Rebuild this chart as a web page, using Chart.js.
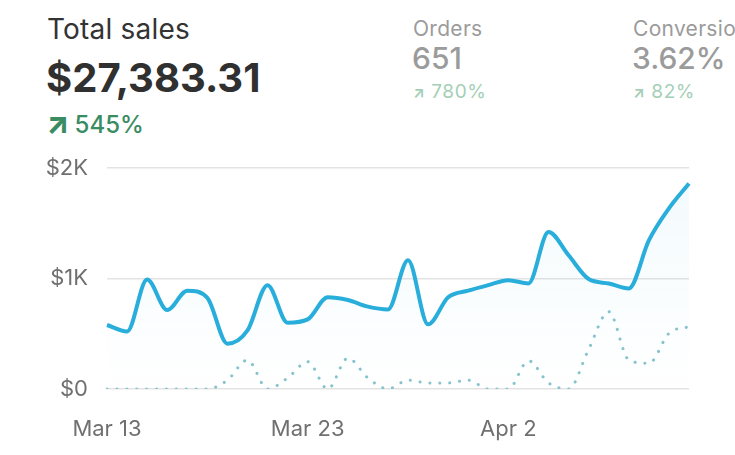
<!DOCTYPE html>
<html>
<head>
<meta charset="utf-8">
<script src="https://cdn.jsdelivr.net/npm/chart.js@4/dist/chart.umd.min.js"></script>
<style>
  html, body { margin: 0; padding: 0; background: #fff; width: 735px; height: 455px; overflow: hidden; font-family: Inter, "Noto Sans", sans-serif; }
  .abs { position: absolute; white-space: nowrap; }
  #t1 { left: 47px; top: 12px; font-size: 28px; color: #333; font-weight: 400; letter-spacing: 0.2px; }
  #t2 { left: 46px; top: 53px; font-size: 40px; color: #303030; font-weight: 700; }
  #t3 { left: 46px; top: 108px; font-size: 24px; color: #3a8c62; font-weight: 500; line-height: 30px; }
  #t3 .arr { font-size: 30px; font-weight: 800; display: inline-block; margin-right: 5px; vertical-align: -1px; }
  .lab { font-size: 21px; color: #9b9b9b; top: 16px; letter-spacing: 0.3px; }
  .val { font-size: 30px; color: #9b9b9b; font-weight: 500; top: 40px; }
  .chg { font-size: 19px; color: #a4cfb6; top: 80px; letter-spacing: 0.6px; }
  .chg .arr { font-size: 15px; font-weight: 700; }
  #wrap { position: absolute; left: 0; top: 150px; width: 735px; height: 305px; }
</style>
</head>
<body>
<div id="t1" class="abs">Total sales</div>
<div id="t2" class="abs">$27,383.31</div>
<div id="t3" class="abs"><span class="arr">↗</span>545%</div>
<div class="abs lab" style="left:413px">Orders</div>
<div class="abs val" style="left:412px">651</div>
<div class="abs chg" style="left:413px"><span class="arr">↗</span> 780%</div>
<div class="abs lab" style="left:633px">Conversion rate</div>
<div class="abs val" style="left:632px">3.62%</div>
<div class="abs chg" style="left:633px"><span class="arr">↗</span> 82%</div>
<div id="wrap"><canvas id="c"></canvas></div>
<script>
const dates = ["Mar 13","Mar 14","Mar 15","Mar 16","Mar 17","Mar 18","Mar 19","Mar 20","Mar 21","Mar 22",
  "Mar 23","Mar 24","Mar 25","Mar 26","Mar 27","Mar 28","Mar 29","Mar 30","Mar 31","Apr 1",
  "Apr 2","Apr 3","Apr 4","Apr 5","Apr 6","Apr 7","Apr 8","Apr 9","Apr 10","Apr 11"];
const currentSales = [579, 520, 990, 715, 890, 825, 410, 530, 940, 600,
  630, 830, 805, 745, 720, 1165, 585, 830, 890, 940,
  985, 955, 1420, 1210, 995, 955, 910, 1345, 1635, 1860];
const previousSales = [0, 0, 0, 0, 0, 0, 80, 262, 0, 100,
  247, 0, 280, 100, 0, 80, 55, 55, 80, 0,
  0, 256, 55, 0, 359, 700, 262, 232, 504, 564];
const yTicks = [0, 1000, 2000];
const yTickLabels = ["$0", "$1K", "$2K"];

const ctx = document.getElementById('c').getContext('2d');
new Chart(ctx, {
  type: 'line',
  data: {
    labels: dates,
    datasets: [
      {
        data: currentSales,
        borderColor: '#29aedc',
        borderWidth: 4,
        pointRadius: 0,
        cubicInterpolationMode: 'monotone',
        fill: 'origin',
        backgroundColor: (c) => {
          const a = c.chart.chartArea;
          if (!a) return 'rgba(41,174,220,0.04)';
          const g = c.chart.ctx.createLinearGradient(0, a.top, 0, a.bottom);
          g.addColorStop(0, 'rgba(41,174,220,0.06)');
          g.addColorStop(1, 'rgba(41,174,220,0.0)');
          return g;
        },
        order: 1
      },
      {
        data: previousSales,
        borderColor: '#86c3cc',
        borderWidth: 3,
        borderDash: [0.1, 9.8],
        borderCapStyle: 'round',
        pointRadius: 0,
        cubicInterpolationMode: 'monotone',
        fill: false,
        order: 2
      }
    ]
  },
  options: {
    responsive: true,
    maintainAspectRatio: false,
    animation: false,
    layout: { padding: { top: 18, right: 46, left: 0, bottom: 0 } },
    plugins: { legend: { display: false }, tooltip: { enabled: false } },
    scales: {
      x: {
        grid: { display: false },
        border: { display: false },
        ticks: {
          autoSkip: false,
          maxRotation: 0,
          color: '#707070',
          font: { family: 'Inter', size: 22 },
          padding: 19,
          callback: (v, i) => (i % 10 === 0 ? dates[i] : '')
        },
        afterFit: (s) => { s.height = 66; s.paddingLeft = 0; s.paddingRight = 0; }
      },
      y: {
        min: 0,
        max: 2000,
        afterBuildTicks: (s) => { s.ticks = yTicks.map(v => ({ value: v })); },
        grid: { color: '#e3e3e3', lineWidth: 1.5, drawTicks: false },
        border: { display: false },
        ticks: {
          color: '#707070',
          font: { family: 'Inter', size: 22 },
          padding: 19,
          callback: (v) => yTickLabels[yTicks.indexOf(v)]
        },
        afterFit: (s) => { s.width = 107; s.paddingTop = 0; s.paddingBottom = 0; }
      }
    }
  }
});
</script>
</body>
</html>
